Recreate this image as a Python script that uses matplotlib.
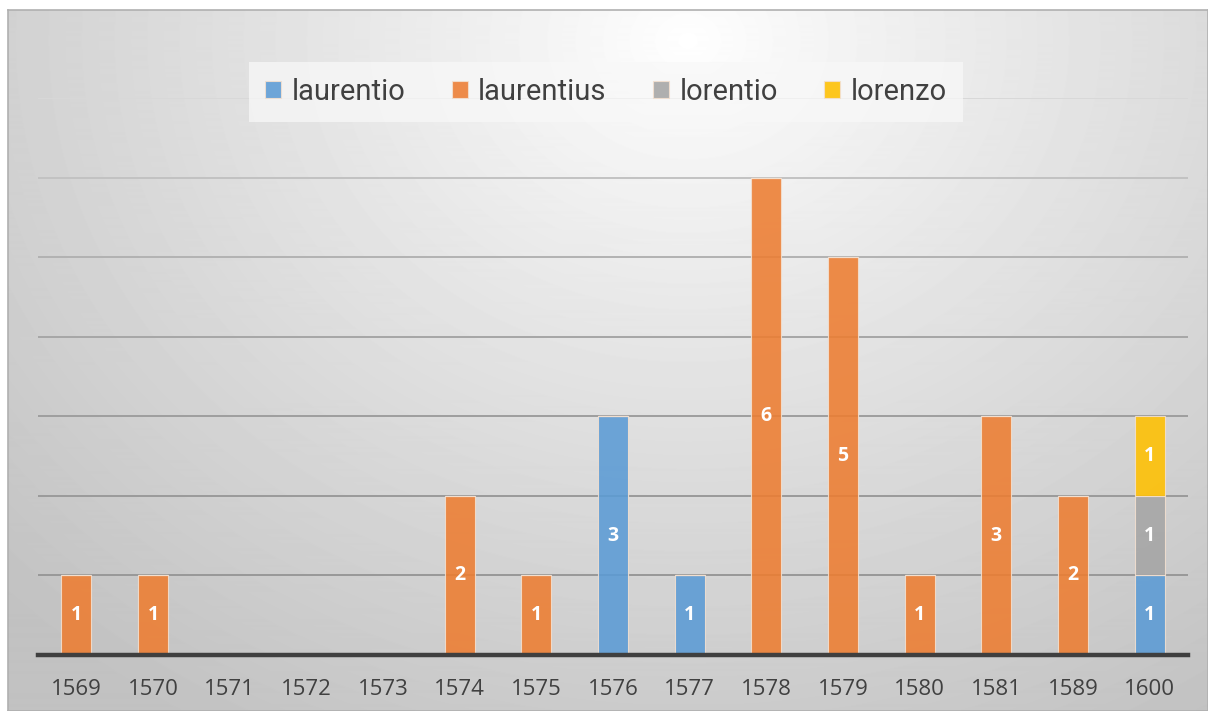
import matplotlib
matplotlib.use('Agg')
import matplotlib.pyplot as plt
import numpy as np

years = ['1569', '1570', '1571', '1572', '1573', '1574', '1575', '1576',
         '1577', '1578', '1579', '1580', '1581', '1589', '1600']
laurentio = [0, 0, 0, 0, 0, 0, 0, 3, 1, 0, 0, 0, 0, 0, 1]
laurentius = [1, 1, 0, 0, 0, 2, 1, 0, 0, 6, 5, 1, 3, 2, 0]
lorentio = [0, 0, 0, 0, 0, 0, 0, 0, 0, 0, 0, 0, 0, 0, 1]
lorenzo = [0, 0, 0, 0, 0, 0, 0, 0, 0, 0, 0, 0, 0, 0, 1]

series = [('laurentio', laurentio, '#5B9BD5'),
          ('laurentius', laurentius, '#ED7D31'),
          ('lorentio', lorentio, '#A5A5A5'),
          ('lorenzo', lorenzo, '#FFC000')]

W, H = 1208, 711
fig = plt.figure(figsize=(W / 100, H / 100), dpi=100)
fig.patch.set_facecolor('white')

# radial grey background
bg = fig.add_axes([8 / W, 0, 1 - 8 / W, 1 - 10 / H])
yy, xx = np.mgrid[0:700, 0:1200]
r = np.sqrt(((xx - 680) / 950.0) ** 2 + ((yy - 30) / 800.0) ** 2)
r = np.clip(r, 0, 1)
shade = 1.0 - 0.24 * r ** 0.9
bg.imshow(shade, cmap='gray', vmin=0, vmax=1, aspect='auto',
          extent=[0, 1, 0, 1], origin='upper')
bg.set_xticks([])
bg.set_yticks([])
for s in bg.spines.values():
    s.set_color('#b0b0b0')
    s.set_linewidth(1.2)

ax = fig.add_axes([38 / W, 1 - 655 / H, 1150 / W, (655 - 98) / H])
ax.patch.set_alpha(0)
x = np.arange(len(years))
bottom = np.zeros(len(years))
handles = []
for name, vals, col in series:
    vals = np.array(vals, dtype=float)
    b = ax.bar(x, vals, 0.39, bottom=bottom, color=col, alpha=0.88,
               edgecolor='#f3e0d0', linewidth=0.8, label=name, zorder=3)
    handles.append(b)
    for xi, v, b0 in zip(x, vals, bottom):
        if v > 0:
            ax.text(xi, b0 + v / 2, '%d' % v, ha='center', va='center',
                    color='white', fontsize=14, fontweight='bold',
                    family='Open Sans', zorder=4)
    bottom += vals

ax.set_xlim(-0.5, len(years) - 0.5)
ax.set_ylim(0, 7)
ax.set_yticks(range(1, 8))
ax.yaxis.grid(True, linewidth=1.4, zorder=1)
grid_cols = ['#989898', '#9a9a9a', '#9e9e9e', '#a6a6a6', '#b2b2b2', '#c2c2c2', '#d8d8d8']
for gl, c in zip(ax.get_ygridlines(), grid_cols):
    gl.set_color(c)
ax.tick_params(axis='y', left=False, labelleft=False)
ax.tick_params(axis='x', length=0, pad=17, labelsize=16, labelcolor='#404040')
ax.set_xticks(x)
ax.set_xticklabels(years, family='Open Sans')
for s in ['top', 'right', 'left']:
    ax.spines[s].set_visible(False)
ax.spines['bottom'].set_color('#3f3f3f')
ax.spines['bottom'].set_linewidth(3.2)
ax.spines['bottom'].set_zorder(5)

leg = fig.legend(handles=handles, loc='center', bbox_to_anchor=(606 / W, 1 - 92 / H),
                 ncol=4, frameon=True, handlelength=0.55,
                 handleheight=0.55, handletextpad=0.35, columnspacing=1.6,
                 borderpad=0.55, prop={'family': 'Roboto', 'size': 21})
leg.get_frame().set_facecolor('#f8f8f8')
leg.get_frame().set_alpha(0.75)
leg.get_frame().set_edgecolor('none')
leg.get_frame().set_boxstyle('square', pad=0)
for t in leg.get_texts():
    t.set_color('#404040')

fig.savefig('out.png', dpi=100)
